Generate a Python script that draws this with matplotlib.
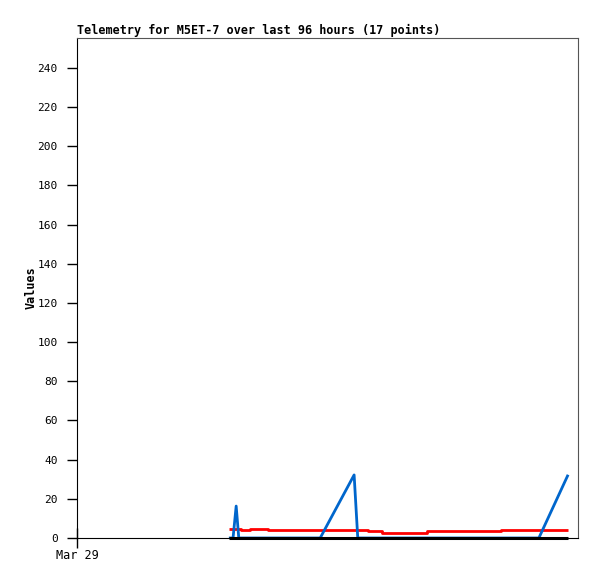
import matplotlib
matplotlib.use("Agg")
import matplotlib.pyplot as plt

# hours since Mar 29 00:00
hours = [29.1, 29.9, 30.5, 31.0, 31.4, 33.1, 36.6, 43.1, 46.6, 53.1, 53.8,
         55.8, 58.4, 67.1, 81.2, 88.5, 94.1]
zero_series = [0] * 17
red_series = [4.75, 4.75, 4.75, 4.75, 3.9, 4.75, 4.25, 3.9, 3.9, 3.9, 3.9,
              3.4, 2.7, 3.4, 3.9, 3.9, 3.9]
blue_series = [0, 0, 16.3, 0, 0, 0, 0, 0, 0, 32.2, 0,
               0, 0, 0, 0, 0, 32.3]
x_ticks = [0]
x_tick_labels = ["Mar 29"]
y_ticks = list(range(0, 241, 20))

plt.rcParams['font.family'] = ['DejaVu Sans Mono']
fig = plt.figure(figsize=(5.97, 5.79), dpi=100)
ax = fig.add_axes([77/597, 41/579, 501/597, 500/579])

ax.plot(hours, red_series, color='#ff0000', lw=2, drawstyle='steps-post',
        solid_capstyle='butt', zorder=2)
ax.plot(hours, blue_series, color='#0066cc', lw=2, solid_capstyle='butt', zorder=3)
ax.plot(hours, zero_series, color='black', lw=2.2, solid_capstyle='butt',
        zorder=4, clip_on=False)

ax.set_xlim(0, 96)
ax.set_ylim(0, 255.3)
ax.set_yticks(y_ticks)
ax.set_xticks(x_ticks)
ax.set_xticklabels(x_tick_labels)
ax.tick_params(axis='y', direction='out', length=7, width=1, labelsize=8, pad=7)
ax.tick_params(axis='x', direction='inout', length=14, width=1, labelsize=8.5, pad=1)

for s in ['top', 'right']:
    ax.spines[s].set_color('#555555')
for s in ['left', 'bottom']:
    ax.spines[s].set_color('black')

ax.set_ylabel('Values', fontsize=8.5, fontweight='bold', va='center')
ax.yaxis.set_label_coords(-0.092, 0.5)
ax.set_title('Telemetry for M5ET-7 over last 96 hours (17 points)', loc='left',
             fontsize=8.5, fontweight='bold', pad=3)

fig.savefig('out.png', dpi=100)
